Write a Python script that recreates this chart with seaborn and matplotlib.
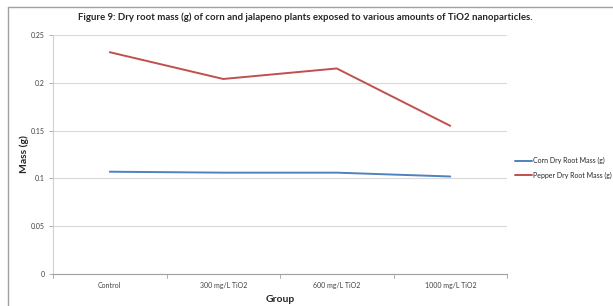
import matplotlib
matplotlib.use("Agg")
import matplotlib.pyplot as plt
from matplotlib.lines import Line2D
import seaborn as sns
import pandas as pd

groups = ["Control", "300 mg/L TiO2", "600 mg/L TiO2", "1000 mg/L TiO2"]
corn_mass = [0.107, 0.106, 0.106, 0.102]
pepper_mass = [0.232, 0.204, 0.215, 0.155]
series_names = ["Corn Dry Root Mass (g)", "Pepper Dry Root Mass (g)"]
y_ticks = [0, 0.05, 0.1, 0.15, 0.2, 0.25]
y_tick_labels = ["0", "0.05", "0.1", "0.15", "0.2", "0.25"]

df = pd.DataFrame({
    "pos": list(range(len(groups))) * 2,
    "mass": corn_mass + pepper_mass,
    "series": [series_names[0]] * len(groups) + [series_names[1]] * len(groups),
})

sns.set_style("white")
plt.rcParams["font.family"] = ["Lato", "DejaVu Sans"]

fig = plt.figure(figsize=(6.13, 3.06), dpi=100, facecolor="white")
ax = fig.add_axes([53 / 613, 1 - 274 / 306, (507 - 53) / 613, (274 - 35) / 306])

palette = {series_names[0]: "#4F81BD", series_names[1]: "#C0504D"}
sns.lineplot(data=df, x="pos", y="mass", hue="series", palette=palette,
             linewidth=1.4, ax=ax, legend=False)

ax.set_xlim(-0.5, len(groups) - 0.5)
ax.set_ylim(0, 0.25)
ax.set_yticks(y_ticks)
ax.set_yticklabels(y_tick_labels, fontsize=5, color="#404040")
ax.set_xticks(range(len(groups)))
ax.set_xticklabels(groups, fontsize=5, color="#404040")
ax.tick_params(axis="x", length=0, pad=6)
ax.tick_params(axis="y", length=3, width=0.6, color="#A0A0A0", pad=3, left=True)
# category boundary tick marks
for b in [i - 0.5 for i in range(len(groups) + 1)]:
    ax.plot([b, b], [0, -0.004], color="#A0A0A0", lw=0.6, clip_on=False)

ax.grid(axis="y", color="#D9D9D9", linewidth=0.8)
ax.set_axisbelow(True)
for s in ["top", "right"]:
    ax.spines[s].set_visible(False)
ax.spines["left"].set_color("#D0D0D0")
ax.spines["bottom"].set_color("#A0A0A0")
ax.spines["left"].set_linewidth(0.8)
ax.spines["bottom"].set_linewidth(0.8)

ax.set_xlabel("Group", fontsize=7.5, fontweight="bold", labelpad=4)
ax.set_ylabel("Mass (g)", fontsize=7.5, fontweight="bold", labelpad=1)

fig.text(305 / 613, 1 - 17 / 306,
         "Figure 9: Dry root mass (g) of corn and jalapeno plants exposed to various amounts of TiO2 nanoparticles.",
         ha="center", va="center", fontsize=6.9, fontweight="bold")

handles = [Line2D([], [], color=palette[n], lw=1.4) for n in series_names]
fig.legend(handles, series_names, loc="center left",
           bbox_to_anchor=(515 / 613, 1 - 168 / 306), frameon=False,
           fontsize=5.0, handlelength=2.4, handletextpad=0.15, labelspacing=1.05,
           borderaxespad=0, borderpad=0)

# outer chart border (cropped)
fig.add_artist(Line2D([8 / 613, 8 / 613], [0, 1 - 7 / 306], color="#A0A0A0", lw=1.0))
fig.add_artist(Line2D([8 / 613, 1], [1 - 7 / 306, 1 - 7 / 306], color="#A0A0A0", lw=1.0))

fig.savefig("out.png", dpi=100, facecolor="white")
